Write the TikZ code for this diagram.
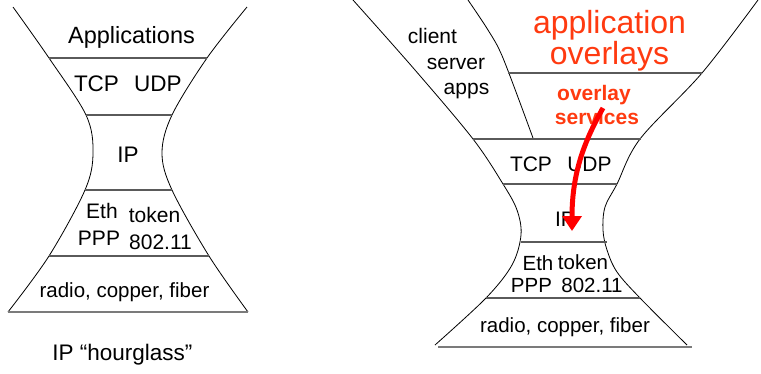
\documentclass[tikz,border=0pt]{standalone}
\usepackage{fontspec}
\setmainfont{Liberation Sans}
\usetikzlibrary{arrows.meta}
\definecolor{ovred}{HTML}{FF3A10}
\definecolor{layerline}{HTML}{5A5A5A}
\begin{document}
\begin{tikzpicture}[x=1pt,y=-1pt,
  side/.style={line width=0.8pt, black},
  layer/.style={line width=1.3pt, layerline},
  base/.style={line width=1.8pt, layerline!80},
  txt/.style={inner sep=0pt, anchor=base, font=\fontsize{#1}{#1}\selectfont},
  txt/.default=22,
  redtxt/.style={txt=#1, text=ovred},
  boldred/.style={txt=#1, text=ovred, font=\fontsize{#1}{#1}\selectfont\bfseries},
  flow/.style={line width=5pt, red, -{Triangle[width=19pt,length=15pt]}}
]
\useasboundingbox (0,0) rectangle (761,373);

% ---------- plain IP hourglass ----------
\draw[side] plot[smooth, tension=0.55] coordinates
  {(13,7) (49,58) (86,115) (93,153) (85,190) (49,256) (8,312)};
\draw[side] plot[smooth, tension=0.55] coordinates
  {(247,7) (207,58) (172,115) (162,153) (172,190) (209,256) (248,312)};
\draw[layer] (49,58) -- (207,58);
\draw[layer] (86,115) -- (172,115);
\draw[layer] (85,190) -- (172,190);
\draw[layer] (49,256) -- (209,256);
\draw[base] (8,312) -- (248,312);

\node[txt=23.5] (apps) at (131.5,43.5) {Applications};
\node[txt=22.5] (tcpL) at (96.5,91.5) {TCP};
\node[txt=22.5] (udpL) at (158,91.5) {UDP};
\node[txt=22.5] (ipL) at (128,162) {IP};
\node[txt=21] (ethL) at (102,218) {Eth};
\node[txt=21] (tokL) at (154.5,222.5) {token};
\node[txt=21] (pppL) at (99,245) {PPP};
\node[txt=21] (wifiL) at (160.5,249) {802.11};
\node[txt=20.5] (physL) at (124.5,297.5) {radio, copper, fiber};
\node[txt=22.5] (caption) at (122.5,360) {IP “hourglass”};

% ---------- hourglass with overlays ----------
\draw[side] plot[smooth, tension=0.55] coordinates
  {(353,0) (415,70) (473,139) (503,184) (517,210) (521,235) (512,265) (486,298) (435,345)};
\draw[side] plot[smooth, tension=0.55] coordinates
  {(758,0) (702,73) (640,139) (617,184) (605,207) (603,230) (607,250) (617,272) (640,298) (687,345)};
\draw[side] plot[smooth, tension=0.5] coordinates
  {(468,0) (488,30) (503,58) (533,138)};
\draw[layer] (508,73) -- (702,73);
\draw[layer] (473,139) -- (641,139);
\draw[layer] (503,184) -- (617,184);
\draw[layer] (521,242) -- (607,242);
\draw[layer] (486,298) -- (640,298);
\draw[base] (438,347) -- (692,347);

\node[txt=21] (client) at (432.5,43.5) {client};
\node[txt=21] (server) at (456,69) {server};
\node[txt=21] (capps) at (466.5,94.3) {apps};
\node[redtxt=32, align=center, anchor=north,
      font=\fontsize{32}{26.7}\selectfont] (appov) at (609.5,10.5) {application\\overlays};
\node[boldred=21] (ovserv) at (594,100.7) {overlay};
\node[boldred=21] (serv) at (597,124) {services};
\node[txt=21] (tcpR) at (531,171.7) {TCP};
\node[txt=21] (udpR) at (589.5,171.7) {UDP};
\node[txt=21] (ipR) at (565,226.7) {IP};
\node[txt=20.5] (ethR) at (538,270.7) {Eth};
\node[txt=20.5] (tokR) at (583,269.3) {token};
\node[txt=20.5] (pppR) at (531.5,292.3) {PPP};
\node[txt=20.5] (wifiR) at (592,292.3) {802.11};
\node[txt=20.5] (physR) at (565,332) {radio, copper, fiber};

% overlay traffic dropping down to IP
\coordinate (flowtop) at (603,108);
\coordinate (flowend) at (572,231);
\draw[flow] (flowtop) .. controls (585,140) and (572,172) .. (flowend);
\end{tikzpicture}
\end{document}
